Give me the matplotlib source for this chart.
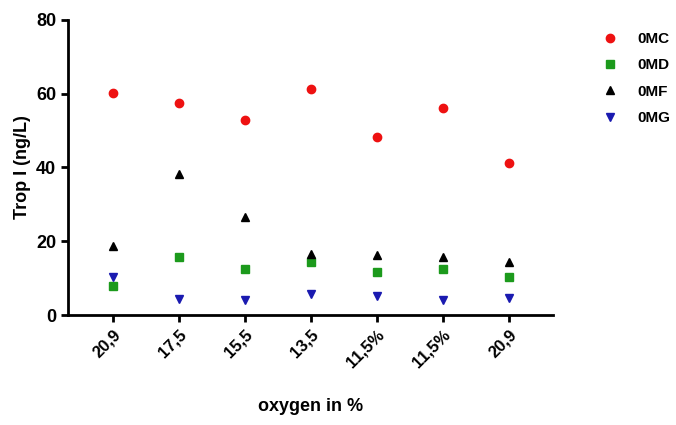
import matplotlib
matplotlib.use("Agg")
import matplotlib.pyplot as plt

plt.rcParams['font.family'] = ['Liberation Sans', 'DejaVu Sans']
plt.rcParams['font.weight'] = 'bold'

oxygen = ["20,9", "17,5", "15,5", "13,5", "11,5%", "11,5%", "20,9"]
mc = [60.2, 57.5, 52.8, 61.2, 48.4, 56.0, 41.2]
md = [7.9, 15.6, 12.6, 14.3, 11.6, 12.5, 10.4]
mf = [18.6, 38.3, 26.7, 16.5, 16.4, 15.6, 14.3]
mg = [10.2, 4.3, 4.1, 5.7, 5.1, 4.0, 4.5]

fig = plt.figure(figsize=(6.76, 4.25), dpi=100)
ax = fig.add_axes([0.1006, 0.2588, 0.7174, 0.6942])

x = list(range(len(oxygen)))
ax.plot(x, mc, 'o', color='#ee1111', ms=6, label='0MC', zorder=3)
ax.plot(x, md, 's', color='#1c9a1c', ms=5.5, label='0MD', zorder=3)
ax.plot(x, mf, '^', color='black', ms=5.5, label='0MF', zorder=3)
ax.plot(x, mg, 'v', color='#1a1ab0', ms=5.5, label='0MG', zorder=3)

ax.set_xlim(-0.68, 6.67)
ax.set_ylim(0, 80)
ax.set_yticks([0, 20, 40, 60, 80])
ax.set_xticks(x)
ax.set_xticklabels(oxygen, rotation=45, ha='right', rotation_mode='anchor', fontsize=12)
ax.tick_params(axis='y', labelsize=13, width=2, length=5)
ax.tick_params(axis='x', width=2, length=5)

for s in ['top', 'right']:
    ax.spines[s].set_visible(False)
for s in ['left', 'bottom']:
    ax.spines[s].set_linewidth(2)

ax.set_ylabel("Trop I (ng/L)", fontsize=13, fontweight='bold')
ax.set_xlabel("oxygen in %", fontsize=13, fontweight='bold', labelpad=20)

ax.legend(loc='upper left', bbox_to_anchor=(1.064, 1.005), frameon=False,
          fontsize=11, handletextpad=1.0, labelspacing=0.8, handlelength=1.6)

fig.savefig("out.png", dpi=100)
